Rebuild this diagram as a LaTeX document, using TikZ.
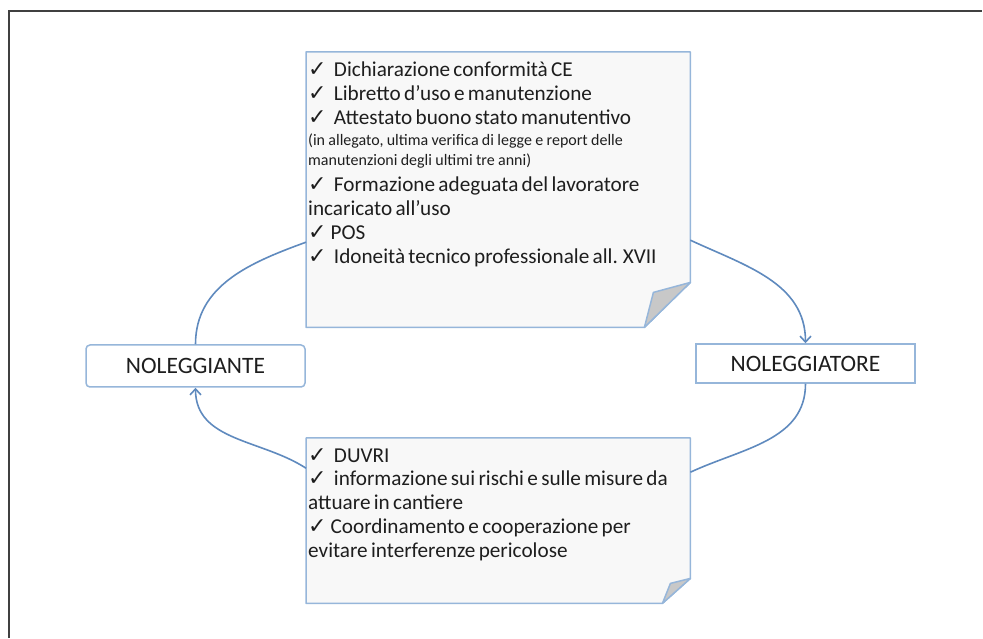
\documentclass[tikz,border=0pt]{standalone}
\usepackage{fontspec}
\setmainfont{Carlito}
\newfontfamily\symfont{DejaVu Sans}
\usetikzlibrary{arrows.meta}
\setlength{\parindent}{0pt}
\definecolor{noteblue}{RGB}{150,182,218}
\definecolor{arcblue}{RGB}{95,138,190}
\definecolor{notefill}{RGB}{248,248,248}
\definecolor{foldgray}{RGB}{200,200,200}
\definecolor{inkgray}{RGB}{30,30,30}
\tikzstyle{notebox}  = [draw=none, minimum width=384pt, inner sep=0pt, anchor=north west]
\tikzstyle{noteline} = [draw=noteblue, line width=1.5pt, fill=notefill, line join=round]
\tikzstyle{party}    = [draw=noteblue, line width=1.5pt, fill=white, minimum width=219pt, inner sep=0pt, text=inkgray, font=\fontsize{23.5}{26}\selectfont]
\tikzstyle{notetext} = [text width=382pt, align=left, anchor=north west, inner sep=0pt, text=inkgray]
\tikzstyle{link}     = [draw=arcblue, line width=1.6pt]
\tikzstyle{flow}     = [link, -{Straight Barb[length=6pt,width=11pt]}]
\newcommand\ck{{\symfont\fontsize{22}{22}\selectfont ✓}\hspace{4pt}}
\newcommand\bigtext{\fontsize{21.2}{23.8}\selectfont}
\newcommand\smalltext{\fontsize{16}{20.5}\selectfont}

\begin{document}
\begin{tikzpicture}[x=1pt,y=1pt]
    \useasboundingbox (0,0) rectangle (983,638);
    \draw[draw=black!75, line width=1.6pt] (9,0) -- (9,627) -- (982,627);
    % boxes
    \node[notebox, minimum height=275pt] (req) at (306,586) {};
    \node[notebox, minimum height=165pt] (coop) at (306,200) {};
    \node[party, minimum height=42pt, rounded corners=4pt] (ante) at (195.5,272) {NOLEGGIANTE};
    \node[party, minimum height=39pt] (tore) at (805.5,274.5) {NOLEGGIATORE};
    % folded notes
    \draw[noteline] (req.north west) -- (req.north east) -- ([yshift=45pt]req.south east)
      -- ([xshift=-46pt]req.south east) -- (req.south west) -- cycle;
    \draw[noteline, fill=foldgray] ([yshift=45pt]req.south east) -- ([xshift=-37pt,yshift=35pt]req.south east)
      -- ([xshift=-46pt]req.south east) -- cycle;
    \draw[noteline] (coop.north west) -- (coop.north east) -- ([yshift=25pt]coop.south east)
      -- ([xshift=-28pt]coop.south east) -- (coop.south west) -- cycle;
    \draw[noteline, fill=foldgray] ([yshift=25pt]coop.south east) -- ([xshift=-20pt,yshift=20pt]coop.south east)
      -- ([xshift=-28pt]coop.south east) -- cycle;
    \node[notetext] (reqtext) at (308,576) {%
      {\bigtext \ck\ Dichiarazione conformità CE\par
       \ck\ Libretto d’uso e manutenzione\par
       \ck\ Attestato buono stato manutentivo\par}
      {\smalltext (in allegato, ultima verifica di legge e report delle\\
       manutenzioni degli ultimi tre anni)\par}
      {\bigtext \vspace{2.5pt}\ck\ Formazione adeguata del lavoratore\\
       incaricato all’uso\par
       \ck POS\par
       \ck\ Idoneità tecnico professionale all. XVII\par}};
    \node[notetext] (cooptext) at (308,190) {%
      {\bigtext \ck\ DUVRI\par
       \ck\ informazione sui rischi e sulle misure da\\
       attuare in cantiere\par
       \ck Coordinamento e cooperazione per\\
       evitare interferenze pericolose\par}};
    % cycle of arcs
    \draw[link] (ante.north) to[out=90,in=200] ([yshift=-52.5pt]req.west);
    \draw[flow] ([yshift=-50.5pt]req.east) to[out=-25,in=90] (tore.north);
    \draw[link] (tore.south) to[out=-90,in=25] ([yshift=48.5pt]coop.east);
    \draw[flow] ([yshift=52.5pt]coop.west) to[out=147,in=-90] (ante.south);
\end{tikzpicture}
\end{document}
